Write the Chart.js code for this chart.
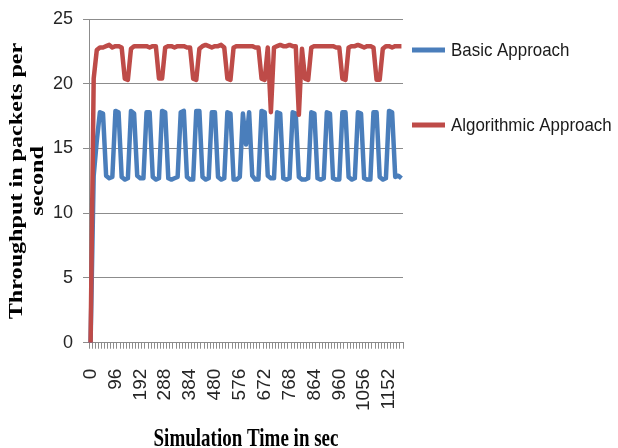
<!DOCTYPE html>
<html>
<head>
<meta charset="utf-8">
<script src="https://cdn.jsdelivr.net/npm/chart.js@4/dist/chart.umd.min.js"></script>
<style>
  html, body { margin: 0; padding: 0; background: #fff; overflow: hidden; }
  #wrap { width: 618px; height: 448px; }
</style>
</head>
<body>
<div id="wrap"><canvas id="throughputChart" width="618" height="448"></canvas></div>
<script>
// simulation time (sec), one sample every 12 s
const times = [
    0, 12, 24, 36, 48, 60, 72, 84, 96, 108, 120, 132, 144, 156, 168, 180, 192,
    204, 216, 228, 240, 252, 264, 276, 288, 300, 312, 324, 336, 348, 360, 372, 384,
    396, 408, 420, 432, 444, 456, 468, 480, 492, 504, 516, 528, 540, 552, 564, 576,
    588, 600, 612, 624, 636, 648, 660, 672, 684, 696, 708, 720, 732, 744, 756, 768,
    780, 792, 804, 816, 828, 840, 852, 864, 876, 888, 900, 912, 924, 936, 948, 960,
    972, 984, 996, 1008, 1020, 1032, 1044, 1056, 1068, 1080, 1092, 1104, 1116, 1128, 1140, 1152,
    1164, 1176, 1188, 1200
];

// throughput, packets per second
const basicApproach = [
    0, 12.9, 15.6, 17.8, 17.7, 12.9, 12.7, 12.8, 17.9, 17.8,
    12.8, 12.6, 12.7, 17.9, 17.7, 12.9, 12.7, 12.7, 17.8, 17.8,
    12.8, 12.6, 12.7, 17.9, 17.8, 12.7, 12.6, 12.7, 12.8, 17.8,
    17.9, 12.8, 12.6, 12.6, 17.9, 17.9, 12.8, 12.6, 12.7, 17.8,
    17.8, 12.8, 12.6, 12.7, 17.8, 17.7, 12.6, 12.6, 12.8, 17.7,
    15.3, 17.8, 12.9, 12.6, 12.6, 17.9, 17.8, 12.9, 12.7, 12.7,
    17.8, 17.7, 12.7, 12.6, 12.7, 17.8, 17.7, 12.8, 12.6, 12.6,
    12.7, 17.8, 17.7, 12.7, 12.6, 12.7, 17.8, 17.7, 12.7, 12.6,
    12.6, 17.8, 17.8, 12.8, 12.6, 12.7, 17.8, 17.7, 12.7, 12.6,
    12.6, 17.8, 17.8, 12.8, 12.6, 12.7, 17.9, 17.8, 12.8, 12.9,
    12.7
];

const algorithmicApproach = [
    0, 20.4, 22.6, 22.8, 22.8, 22.9, 23.0, 22.8, 22.9, 22.9,
    22.8, 20.4, 20.3, 22.7, 22.9, 22.9, 22.9, 22.9, 22.9, 22.8,
    22.9, 22.9, 20.4, 20.4, 22.8, 22.9, 22.9, 22.8, 22.9, 22.9,
    22.9, 22.8, 22.8, 20.4, 20.3, 22.7, 22.9, 23.0, 22.9, 22.8,
    22.9, 22.9, 23.0, 22.8, 20.4, 20.3, 22.8, 22.9, 22.9, 22.9,
    22.9, 22.9, 22.9, 22.8, 22.8, 20.4, 20.3, 22.8, 17.8, 22.8,
    22.9, 23.0, 22.9, 22.9, 23.0, 22.9, 22.9, 17.6, 22.7, 20.4,
    20.3, 22.8, 22.9, 22.9, 22.9, 22.9, 22.9, 22.9, 22.9, 22.8,
    22.8, 20.4, 20.3, 22.8, 22.9, 22.9, 23.0, 22.9, 22.8, 22.9,
    22.9, 22.8, 20.3, 20.3, 22.7, 22.9, 22.9, 22.8, 22.9, 22.9,
    22.9
];

const yTicks = [0, 5, 10, 15, 20, 25];

const sansFont = "'Liberation Sans', Arial, sans-serif";
const serifFont = "'Liberation Serif', 'Times New Roman', serif";
const gridColor = '#8c8c8c';

// axis titles are drawn by hand so they can be stretched like the original
const axisTitles = {
    id: 'axisTitles',
    afterDraw(chart) {
        const c = chart.ctx;
        const area = chart.chartArea;
        c.save();
        c.fillStyle = '#000';
        c.font = 'bold 19px ' + serifFont;
        c.textAlign = 'center';
        c.textBaseline = 'middle';

        // y title, two lines, reading bottom to top
        c.save();
        c.translate(17, 181);
        c.rotate(-Math.PI / 2);
        c.scale(1.27, 1);
        c.fillText('Throughput in packets per', 0, 0);
        c.fillText('second', 0, 21);
        c.restore();

        // x title
        c.save();
        c.translate((area.left + area.right) / 2, 446);
        c.scale(1, 1.28);
        c.textBaseline = 'alphabetic';
        c.fillText('Simulation Time in sec', 0, 0);
        c.restore();
        c.restore();
    }
};

// legend on the right: short line sample plus label
const sideLegend = {
    id: 'sideLegend',
    afterDraw(chart) {
        const c = chart.ctx;
        const rows = [50, 125];
        c.save();
        chart.data.datasets.forEach(function(ds, i) {
            const y = rows[i];
            c.strokeStyle = ds.borderColor;
            c.lineWidth = 5;
            c.lineCap = 'butt';
            c.beginPath();
            c.moveTo(412, y);
            c.lineTo(445, y);
            c.stroke();
            c.save();
            c.translate(451, y + 1);
            c.scale(0.89, 1);
            c.fillStyle = '#1a1a1a';
            c.font = '19px ' + sansFont;
            c.textAlign = 'left';
            c.textBaseline = 'middle';
            c.fillText(ds.label, 0, 0);
            c.restore();
        });
        c.restore();
    }
};

document.addEventListener("DOMContentLoaded", function() {
    const ctx = document.getElementById('throughputChart').getContext('2d');
    new Chart(ctx, {
        type: 'line',
        data: {
            labels: times,
            datasets: [{
                label: 'Basic Approach',
                data: basicApproach,
                borderColor: '#4a7ebb',
                borderWidth: 4.5,
                borderJoinStyle: 'round',
                pointRadius: 0,
                fill: false,
                order: 1
            }, {
                label: 'Algorithmic Approach',
                data: algorithmicApproach,
                borderColor: '#be4b48',
                borderWidth: 4.5,
                borderJoinStyle: 'round',
                pointRadius: 0,
                fill: false,
                order: 0
            }]
        },
        options: {
            responsive: false,
            animation: false,
            layout: {
                padding: { left: 43, right: 215, top: 5, bottom: 17 }
            },
            plugins: {
                legend: { display: false },
                tooltip: { enabled: false }
            },
            scales: {
                x: {
                    type: 'category',
                    offset: true,
                    grid: {
                        offset: true,
                        drawOnChartArea: false,
                        drawTicks: true,
                        tickLength: 6,
                        color: gridColor
                    },
                    border: { display: true, color: gridColor, width: 1 },
                    ticks: {
                        autoSkip: false,
                        minRotation: 90,
                        maxRotation: 90,
                        padding: 20,
                        color: '#262626',
                        font: { family: sansFont, size: 19 },
                        callback: function(value, index) {
                            return index % 8 === 0 ? String(times[index]) : '';
                        }
                    }
                },
                y: {
                    min: yTicks[0],
                    max: yTicks[yTicks.length - 1],
                    afterBuildTicks: function(scale) {
                        scale.ticks = yTicks.map(function(v) { return { value: v }; });
                    },
                    grid: {
                        color: gridColor,
                        tickLength: 6
                    },
                    border: { display: true, color: gridColor, width: 1 },
                    ticks: {
                        padding: 10,
                        color: '#262626',
                        font: { family: sansFont, size: 18, lineHeight: 1 }
                    }
                }
            }
        },
        plugins: [axisTitles, sideLegend]
    });
});
</script>
</body>
</html>
